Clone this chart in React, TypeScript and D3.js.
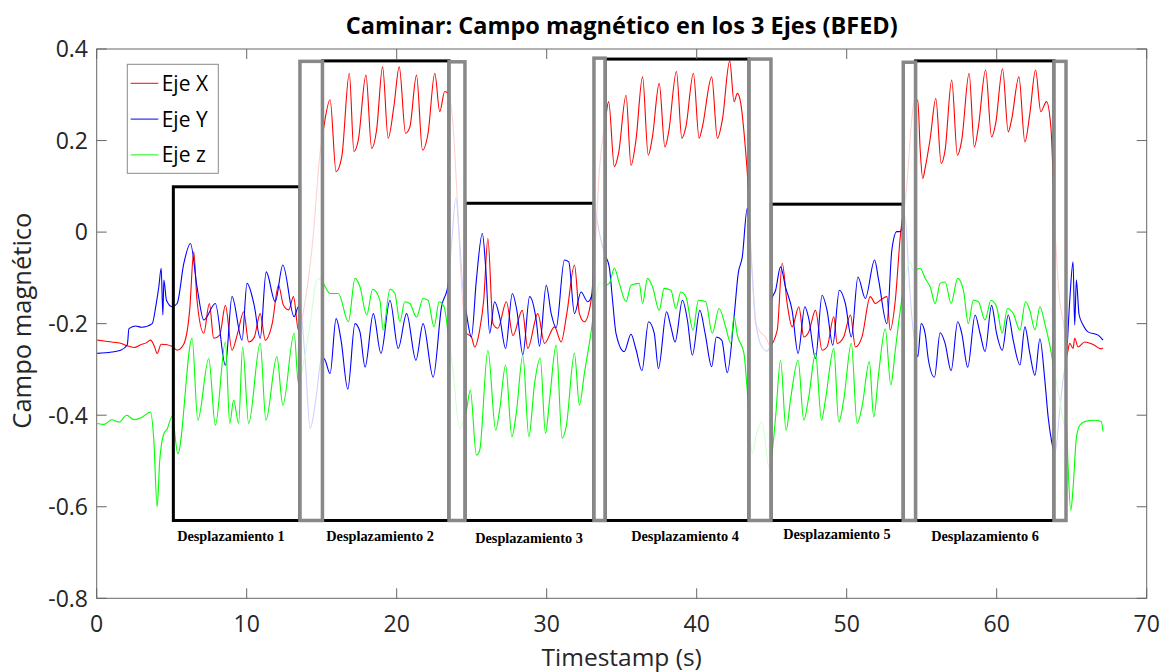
import React from 'react';
import * as d3 from 'd3';

type Pt = [number, number];

const ejeX: Pt[] = [[0.04,-0.236],[0.5,-0.238],[1.0,-0.24],[1.6,-0.243],[2.0,-0.248],[2.5,-0.252],[2.93,-0.246],[3.3,-0.242],[3.59,-0.236],[3.85,-0.25],[4.03,-0.265],[4.3,-0.245],[4.7,-0.246],[5.03,-0.25],[5.36,-0.258],[5.8,-0.245],[6.2,-0.17],[6.47,-0.043],[6.69,-0.15],[7.14,-0.221],[7.51,-0.156],[7.8,-0.232],[8.2,-0.225],[8.58,-0.16],[9.02,-0.258],[9.4,-0.22],[9.8,-0.174],[10.13,-0.24],[10.5,-0.23],[10.9,-0.178],[11.24,-0.236],[11.7,-0.2],[12.12,-0.116],[12.45,-0.16],[12.8,-0.17],[13.12,-0.141],[13.45,-0.214],[13.9,-0.15],[14.4,-0.02],[14.89,0.173],[15.11,0.223],[15.56,0.289],[15.96,0.132],[16.34,0.165],[16.84,0.347],[17.15,0.176],[17.44,0.201],[17.95,0.343],[18.33,0.183],[18.66,0.223],[19.06,0.361],[19.43,0.205],[19.81,0.274],[20.17,0.361],[20.59,0.216],[20.88,0.23],[21.32,0.343],[21.72,0.179],[22.09,0.216],[22.54,0.347],[22.87,0.263],[23.2,0.307],[23.42,0.303],[23.74,0.24],[24.07,0.05],[24.33,-0.12],[24.65,-0.221],[24.98,-0.229],[25.2,-0.251],[25.53,-0.214],[25.8,-0.149],[26.08,-0.014],[26.42,-0.2],[26.75,-0.21],[27.31,-0.152],[27.75,-0.226],[28.37,-0.171],[28.74,-0.254],[29.41,-0.178],[29.85,-0.243],[30.52,-0.207],[30.96,-0.24],[31.34,-0.178],[31.85,-0.072],[32.18,-0.178],[32.51,-0.196],[32.96,-0.149],[33.2,-0.05],[33.5,0.13],[33.84,0.23],[33.91,0.245],[34.13,0.285],[34.51,0.143],[34.79,0.172],[35.29,0.299],[35.62,0.146],[35.95,0.201],[36.39,0.339],[36.77,0.168],[37.05,0.208],[37.5,0.325],[37.88,0.186],[38.12,0.216],[38.65,0.351],[39.01,0.205],[39.28,0.23],[39.78,0.347],[40.16,0.205],[40.38,0.23],[41.0,0.339],[41.38,0.205],[41.71,0.245],[42.2,0.374],[42.49,0.285],[42.71,0.303],[42.93,0.283],[43.2,0.201],[43.42,0.106],[43.7,-0.09],[43.93,-0.2],[44.3,-0.22],[44.6,-0.23],[44.88,-0.247],[45.37,-0.214],[45.7,-0.068],[46.03,-0.156],[46.36,-0.207],[46.81,-0.163],[47.14,-0.229],[47.47,-0.218],[47.92,-0.171],[48.36,-0.258],[48.69,-0.251],[49.14,-0.185],[49.36,-0.243],[49.8,-0.229],[50.25,-0.181],[50.58,-0.251],[51.02,-0.229],[51.57,-0.141],[51.91,-0.156],[52.24,-0.149],[52.68,-0.141],[52.9,-0.214],[53.24,-0.149],[53.57,-0.01],[54.0,0.1],[54.35,0.25],[54.52,0.288],[54.74,0.288],[54.9,0.179],[55.07,0.117],[55.23,0.14],[55.57,0.205],[55.94,0.292],[56.3,0.15],[56.56,0.179],[57.0,0.332],[57.38,0.168],[57.67,0.201],[58.16,0.347],[58.51,0.186],[58.78,0.23],[59.26,0.354],[59.66,0.208],[59.93,0.237],[60.39,0.357],[60.77,0.219],[60.99,0.245],[61.48,0.339],[61.88,0.197],[62.21,0.259],[62.59,0.354],[62.94,0.263],[63.32,0.285],[63.61,0.23],[63.9,0.0],[64.2,-0.15],[64.5,-0.21],[64.65,-0.272],[64.87,-0.243],[65.09,-0.254],[65.2,-0.232],[65.43,-0.251],[65.87,-0.24],[66.4,-0.245],[66.97,-0.255],[67.09,-0.253]];

const ejeY: Pt[] = [[0.04,-0.265],[1.0,-0.262],[1.6,-0.258],[2.04,-0.246],[2.15,-0.211],[2.6,-0.205],[3.0,-0.208],[3.7,-0.2],[3.95,-0.16],[4.14,-0.12],[4.3,-0.079],[4.41,-0.181],[4.48,-0.105],[4.65,-0.149],[5.03,-0.163],[5.36,-0.156],[5.81,-0.068],[6.25,-0.025],[6.69,-0.12],[7.14,-0.192],[7.91,-0.156],[8.58,-0.291],[9.02,-0.141],[9.69,-0.236],[10.02,-0.112],[10.5,-0.16],[10.9,-0.232],[11.3,-0.087],[11.9,-0.152],[12.41,-0.072],[13.16,-0.185],[13.45,-0.163],[13.56,-0.165],[13.9,-0.28],[14.23,-0.429],[14.63,-0.36],[15.01,-0.272],[15.23,-0.28],[15.56,-0.309],[15.96,-0.189],[16.29,-0.236],[16.74,-0.343],[17.22,-0.2],[17.55,-0.218],[17.89,-0.295],[18.44,-0.178],[18.95,-0.265],[19.55,-0.149],[20.1,-0.254],[20.66,-0.178],[21.28,-0.28],[21.76,-0.2],[22.43,-0.317],[22.99,-0.163],[23.42,-0.116],[23.67,-0.02],[23.94,0.074],[24.2,-0.02],[24.4,-0.12],[24.65,-0.178],[24.98,-0.229],[25.31,-0.105],[25.71,-0.003],[25.93,-0.076],[26.2,-0.221],[26.53,-0.152],[26.86,-0.185],[27.26,-0.254],[27.71,-0.134],[28.01,-0.171],[28.41,-0.268],[28.86,-0.141],[29.3,-0.192],[29.52,-0.249],[29.97,-0.116],[30.3,-0.178],[30.63,-0.209],[31.18,-0.061],[31.47,-0.065],[31.85,-0.178],[32.29,-0.131],[32.73,-0.152],[33.07,-0.131],[33.18,0.048],[33.5,0.0],[33.84,-0.046],[34.17,-0.076],[34.39,-0.149],[34.62,-0.221],[35.17,-0.261],[35.62,-0.223],[35.95,-0.256],[36.35,-0.303],[36.79,-0.196],[37.17,-0.221],[37.45,-0.298],[37.99,-0.174],[38.28,-0.207],[38.56,-0.24],[39.05,-0.149],[39.38,-0.192],[39.71,-0.269],[40.21,-0.171],[40.56,-0.221],[41.0,-0.294],[41.31,-0.229],[41.67,-0.236],[42.04,-0.307],[42.49,-0.185],[42.77,-0.09],[43.04,-0.054],[43.37,0.052],[43.62,-0.05],[43.95,-0.2],[44.35,-0.251],[44.68,-0.26],[44.88,-0.25],[44.99,-0.149],[45.26,-0.127],[45.59,-0.076],[45.92,-0.12],[46.36,-0.171],[46.76,-0.265],[47.21,-0.163],[47.47,-0.189],[47.92,-0.276],[48.36,-0.138],[48.69,-0.171],[49.07,-0.247],[49.51,-0.127],[49.91,-0.156],[50.31,-0.229],[50.75,-0.098],[51.24,-0.145],[51.86,-0.061],[52.13,-0.105],[52.68,-0.2],[53.01,-0.039],[53.34,0.001],[53.57,0.001],[53.9,0.033],[54.12,-0.08],[54.34,-0.185],[54.52,-0.236],[54.74,-0.272],[54.97,-0.2],[55.23,-0.222],[55.45,-0.28],[55.85,-0.317],[56.23,-0.22],[56.56,-0.243],[56.96,-0.303],[57.4,-0.196],[57.67,-0.221],[58.07,-0.295],[58.56,-0.181],[58.89,-0.221],[59.22,-0.261],[59.66,-0.16],[59.99,-0.221],[60.37,-0.258],[60.77,-0.181],[61.1,-0.236],[61.55,-0.29],[61.88,-0.207],[62.21,-0.265],[62.55,-0.313],[62.88,-0.233],[63.21,-0.324],[63.43,-0.404],[63.65,-0.455],[63.88,-0.484],[64.21,-0.386],[64.43,-0.32],[64.65,-0.272],[64.87,-0.149],[65.09,-0.065],[65.2,-0.203],[65.31,-0.105],[65.49,-0.18],[65.76,-0.203],[66.09,-0.218],[66.76,-0.225],[67.09,-0.236]];

const ejeZ: Pt[] = [[0.04,-0.418],[0.5,-0.42],[1.0,-0.41],[1.5,-0.415],[2.0,-0.4],[2.5,-0.41],[3.0,-0.405],[3.59,-0.393],[3.8,-0.45],[4.03,-0.6],[4.2,-0.5],[4.48,-0.44],[4.7,-0.43],[5.03,-0.403],[5.41,-0.484],[6.36,-0.232],[6.74,-0.411],[7.47,-0.276],[7.91,-0.422],[8.58,-0.24],[8.87,-0.418],[9.13,-0.367],[9.46,-0.418],[9.73,-0.251],[10.13,-0.418],[10.9,-0.243],[11.28,-0.411],[12.01,-0.272],[12.41,-0.378],[13.16,-0.221],[13.45,-0.331],[13.78,-0.287],[14.23,-0.2],[14.67,-0.105],[14.89,-0.101],[15.11,-0.112],[15.56,-0.134],[16.11,-0.134],[16.78,-0.196],[17.22,-0.101],[17.55,-0.119],[18.0,-0.181],[18.4,-0.125],[18.88,-0.149],[19.1,-0.214],[19.55,-0.125],[19.88,-0.134],[20.21,-0.196],[20.54,-0.152],[20.88,-0.156],[21.32,-0.186],[21.76,-0.145],[22.09,-0.149],[22.49,-0.207],[22.83,-0.152],[23.16,-0.163],[23.42,-0.218],[23.74,-0.3],[24.2,-0.429],[24.65,-0.389],[24.91,-0.345],[25.31,-0.487],[25.53,-0.477],[26.08,-0.258],[26.6,-0.433],[26.86,-0.389],[27.26,-0.291],[27.68,-0.447],[27.97,-0.396],[28.41,-0.269],[28.81,-0.447],[29.19,-0.331],[29.57,-0.275],[29.92,-0.44],[30.19,-0.367],[30.63,-0.247],[31.03,-0.45],[31.3,-0.425],[31.85,-0.265],[32.18,-0.378],[32.51,-0.309],[32.96,-0.218],[33.24,-0.15],[33.58,-0.11],[33.91,-0.116],[34.17,-0.112],[34.51,-0.079],[34.84,-0.112],[35.29,-0.152],[35.62,-0.116],[36.17,-0.112],[36.39,-0.156],[36.72,-0.101],[37.05,-0.119],[37.5,-0.171],[37.83,-0.123],[38.28,-0.127],[38.61,-0.167],[38.94,-0.131],[39.28,-0.141],[39.76,-0.214],[40.11,-0.149],[40.6,-0.152],[41.04,-0.221],[41.49,-0.167],[41.93,-0.207],[42.27,-0.243],[42.49,-0.185],[42.71,-0.225],[43.15,-0.265],[43.37,-0.345],[43.7,-0.484],[44.0,-0.44],[44.37,-0.415],[44.81,-0.513],[44.99,-0.491],[45.26,-0.404],[45.59,-0.28],[45.96,-0.433],[46.25,-0.367],[46.76,-0.28],[47.14,-0.411],[47.47,-0.36],[47.92,-0.265],[48.32,-0.411],[48.58,-0.367],[49.14,-0.254],[49.47,-0.415],[49.8,-0.367],[50.31,-0.243],[50.69,-0.418],[51.02,-0.382],[51.51,-0.283],[51.8,-0.404],[52.13,-0.309],[52.57,-0.211],[52.94,-0.334],[53.24,-0.258],[53.57,-0.171],[53.9,-0.1],[54.23,-0.065],[54.45,-0.085],[54.9,-0.079],[55.23,-0.101],[55.57,-0.12],[55.9,-0.156],[56.23,-0.112],[56.56,-0.109],[56.96,-0.156],[57.4,-0.101],[57.78,-0.127],[58.11,-0.2],[58.44,-0.149],[58.78,-0.152],[59.22,-0.192],[59.62,-0.149],[59.99,-0.163],[60.37,-0.221],[60.72,-0.167],[61.1,-0.178],[61.55,-0.214],[61.92,-0.152],[62.21,-0.171],[62.55,-0.214],[62.88,-0.163],[63.21,-0.2],[63.54,-0.247],[63.83,-0.3],[64.21,-0.367],[64.5,-0.42],[64.65,-0.426],[64.76,-0.513],[64.94,-0.608],[65.09,-0.56],[65.31,-0.45],[65.54,-0.422],[65.87,-0.414],[66.53,-0.411],[66.97,-0.414],[67.09,-0.436]];

const seriesNames = ['Eje X', 'Eje Y', 'Eje z'];
const seriesColors = ['#ff0000', '#0000ff', '#00ff00'];

const xTicks = [0, 10, 20, 30, 40, 50, 60, 70];
const yTicks = [-0.8, -0.6, -0.4, -0.2, 0, 0.2, 0.4];
const yTickLabels = ['-0.8', '-0.6', '-0.4', '-0.2', '0', '0.2', '0.4'];

const desplazamientos = [
  { label: 'Desplazamiento 1', t0: 5.11, t1: 13.55, top: 0.099, labelT: 8.95, labelV: -0.675 },
  { label: 'Desplazamiento 2', t0: 15.05, t1: 23.49, top: 0.374, labelT: 18.89, labelV: -0.675 },
  { label: 'Desplazamiento 3', t0: 24.55, t1: 33.15, top: 0.063, labelT: 28.82, labelV: -0.68 },
  { label: 'Desplazamiento 4', t0: 33.89, t1: 43.49, top: 0.378, labelT: 39.22, labelV: -0.675 },
  { label: 'Desplazamiento 5', t0: 44.95, t1: 53.77, top: 0.061, labelT: 49.35, labelV: -0.671 },
  { label: 'Desplazamiento 6', t0: 54.59, t1: 63.82, top: 0.374, labelT: 59.22, labelV: -0.675 },
];
const transiciones = [
  { t0: 13.55, t1: 15.05, top: 0.373 },
  { t0: 23.49, t1: 24.55, top: 0.372 },
  { t0: 33.15, t1: 33.89, top: 0.38 },
  { t0: 43.49, t1: 44.95, top: 0.378 },
  { t0: 53.77, t1: 54.59, top: 0.371 },
  { t0: 63.82, t1: 64.62, top: 0.373 },
];
const boxBottom = -0.63;

const FONT = "'Open Sans', 'Noto Sans', sans-serif";

export default function App() {
  const W = 1167, H = 672;
  const L = 96.7, R = 1146.7, T = 49, B = 598.3;
  const x = d3.scaleLinear().domain([0, 70]).range([L, R]);
  const y = d3.scaleLinear().domain([-0.8, 0.4]).range([B, T]);
  const line = d3.line<Pt>().x(d => x(d[0])).y(d => y(d[1])).curve(d3.curveMonotoneX);
  const series = [ejeX, ejeY, ejeZ];
  const tickLen = 10;
  return (
    <svg width={W} height={H} style={{ position: 'absolute', left: 0, top: 0, background: '#fff' }}>
      <rect x={0} y={0} width={W} height={H} fill="#fff" />
      <text x={(L + R) / 2} y={34} textAnchor="middle" fontFamily={FONT} fontWeight="bold" fontSize={23.5} fill="#000">
        Caminar: Campo magnético en los 3 Ejes (BFED)
      </text>
      {series.map((s, i) => (
        <path key={i} d={line(s) || ''} fill="none" stroke={seriesColors[i]} strokeWidth={1.1} />
      ))}
      {desplazamientos.map((b, i) => (
        <rect key={i} x={x(b.t0)} y={y(b.top)} width={x(b.t1) - x(b.t0)} height={y(boxBottom) - y(b.top)} fill="none" stroke="#000" strokeWidth={3} />
      ))}
      {transiciones.map((b, i) => (
        <rect key={i} x={x(b.t0)} y={y(b.top)} width={x(b.t1) - x(b.t0)} height={y(boxBottom) - y(b.top)} fill="#fff" fillOpacity={0.82} stroke="#888" strokeWidth={3.5} />
      ))}
      {desplazamientos.map((b, i) => (
        <text key={i} x={x(b.labelT)} y={y(b.labelV)} textAnchor="middle" fontFamily="'Liberation Serif', 'Times New Roman', serif" fontWeight="bold" fontSize={14.3} fill="#000">
          {b.label}
        </text>
      ))}
      <rect x={L} y={T} width={R - L} height={B - T} fill="none" stroke="#666" strokeWidth={1} />
      {xTicks.map(t => (
        <g key={'x' + t}>
          <line x1={x(t)} x2={x(t)} y1={B} y2={B - tickLen} stroke="#666" />
          <line x1={x(t)} x2={x(t)} y1={T} y2={T + tickLen} stroke="#666" />
          <text x={x(t)} y={631.5} textAnchor="middle" fontFamily={FONT} fontSize={23} fill="#262626">{t}</text>
        </g>
      ))}
      {yTicks.map((v, i) => (
        <g key={'y' + v}>
          <line x1={L} x2={L + tickLen} y1={y(v)} y2={y(v)} stroke="#666" />
          <line x1={R} x2={R - tickLen} y1={y(v)} y2={y(v)} stroke="#666" />
          <text x={88} y={y(v) + 8.3} textAnchor="end" fontFamily={FONT} fontSize={23} fill="#262626">{yTickLabels[i]}</text>
        </g>
      ))}
      <text x={(L + R) / 2} y={666} textAnchor="middle" fontFamily={FONT} fontSize={24.5} fill="#262626">Timestamp (s)</text>
      <text transform={`translate(31, ${(T + B) / 2 - 3}) rotate(-90)`} textAnchor="middle" fontFamily={FONT} fontSize={25.5} fill="#262626">Campo magnético</text>
      <g>
        <rect x={127.3} y={64.3} width={91} height={109} fill="#fff" stroke="#8a8a8a" strokeWidth={1} />
        {seriesNames.map((n, i) => (
          <g key={n}>
            <line x1={130.7} x2={158.3} y1={83.3 + i * 35.8} y2={83.3 + i * 35.8} stroke={seriesColors[i]} strokeWidth={1} />
            <text x={161.7} y={83.3 + i * 35.8 + 7.5} fontFamily={FONT} fontSize={21} fill="#000">{n}</text>
          </g>
        ))}
      </g>
    </svg>
  );
}
